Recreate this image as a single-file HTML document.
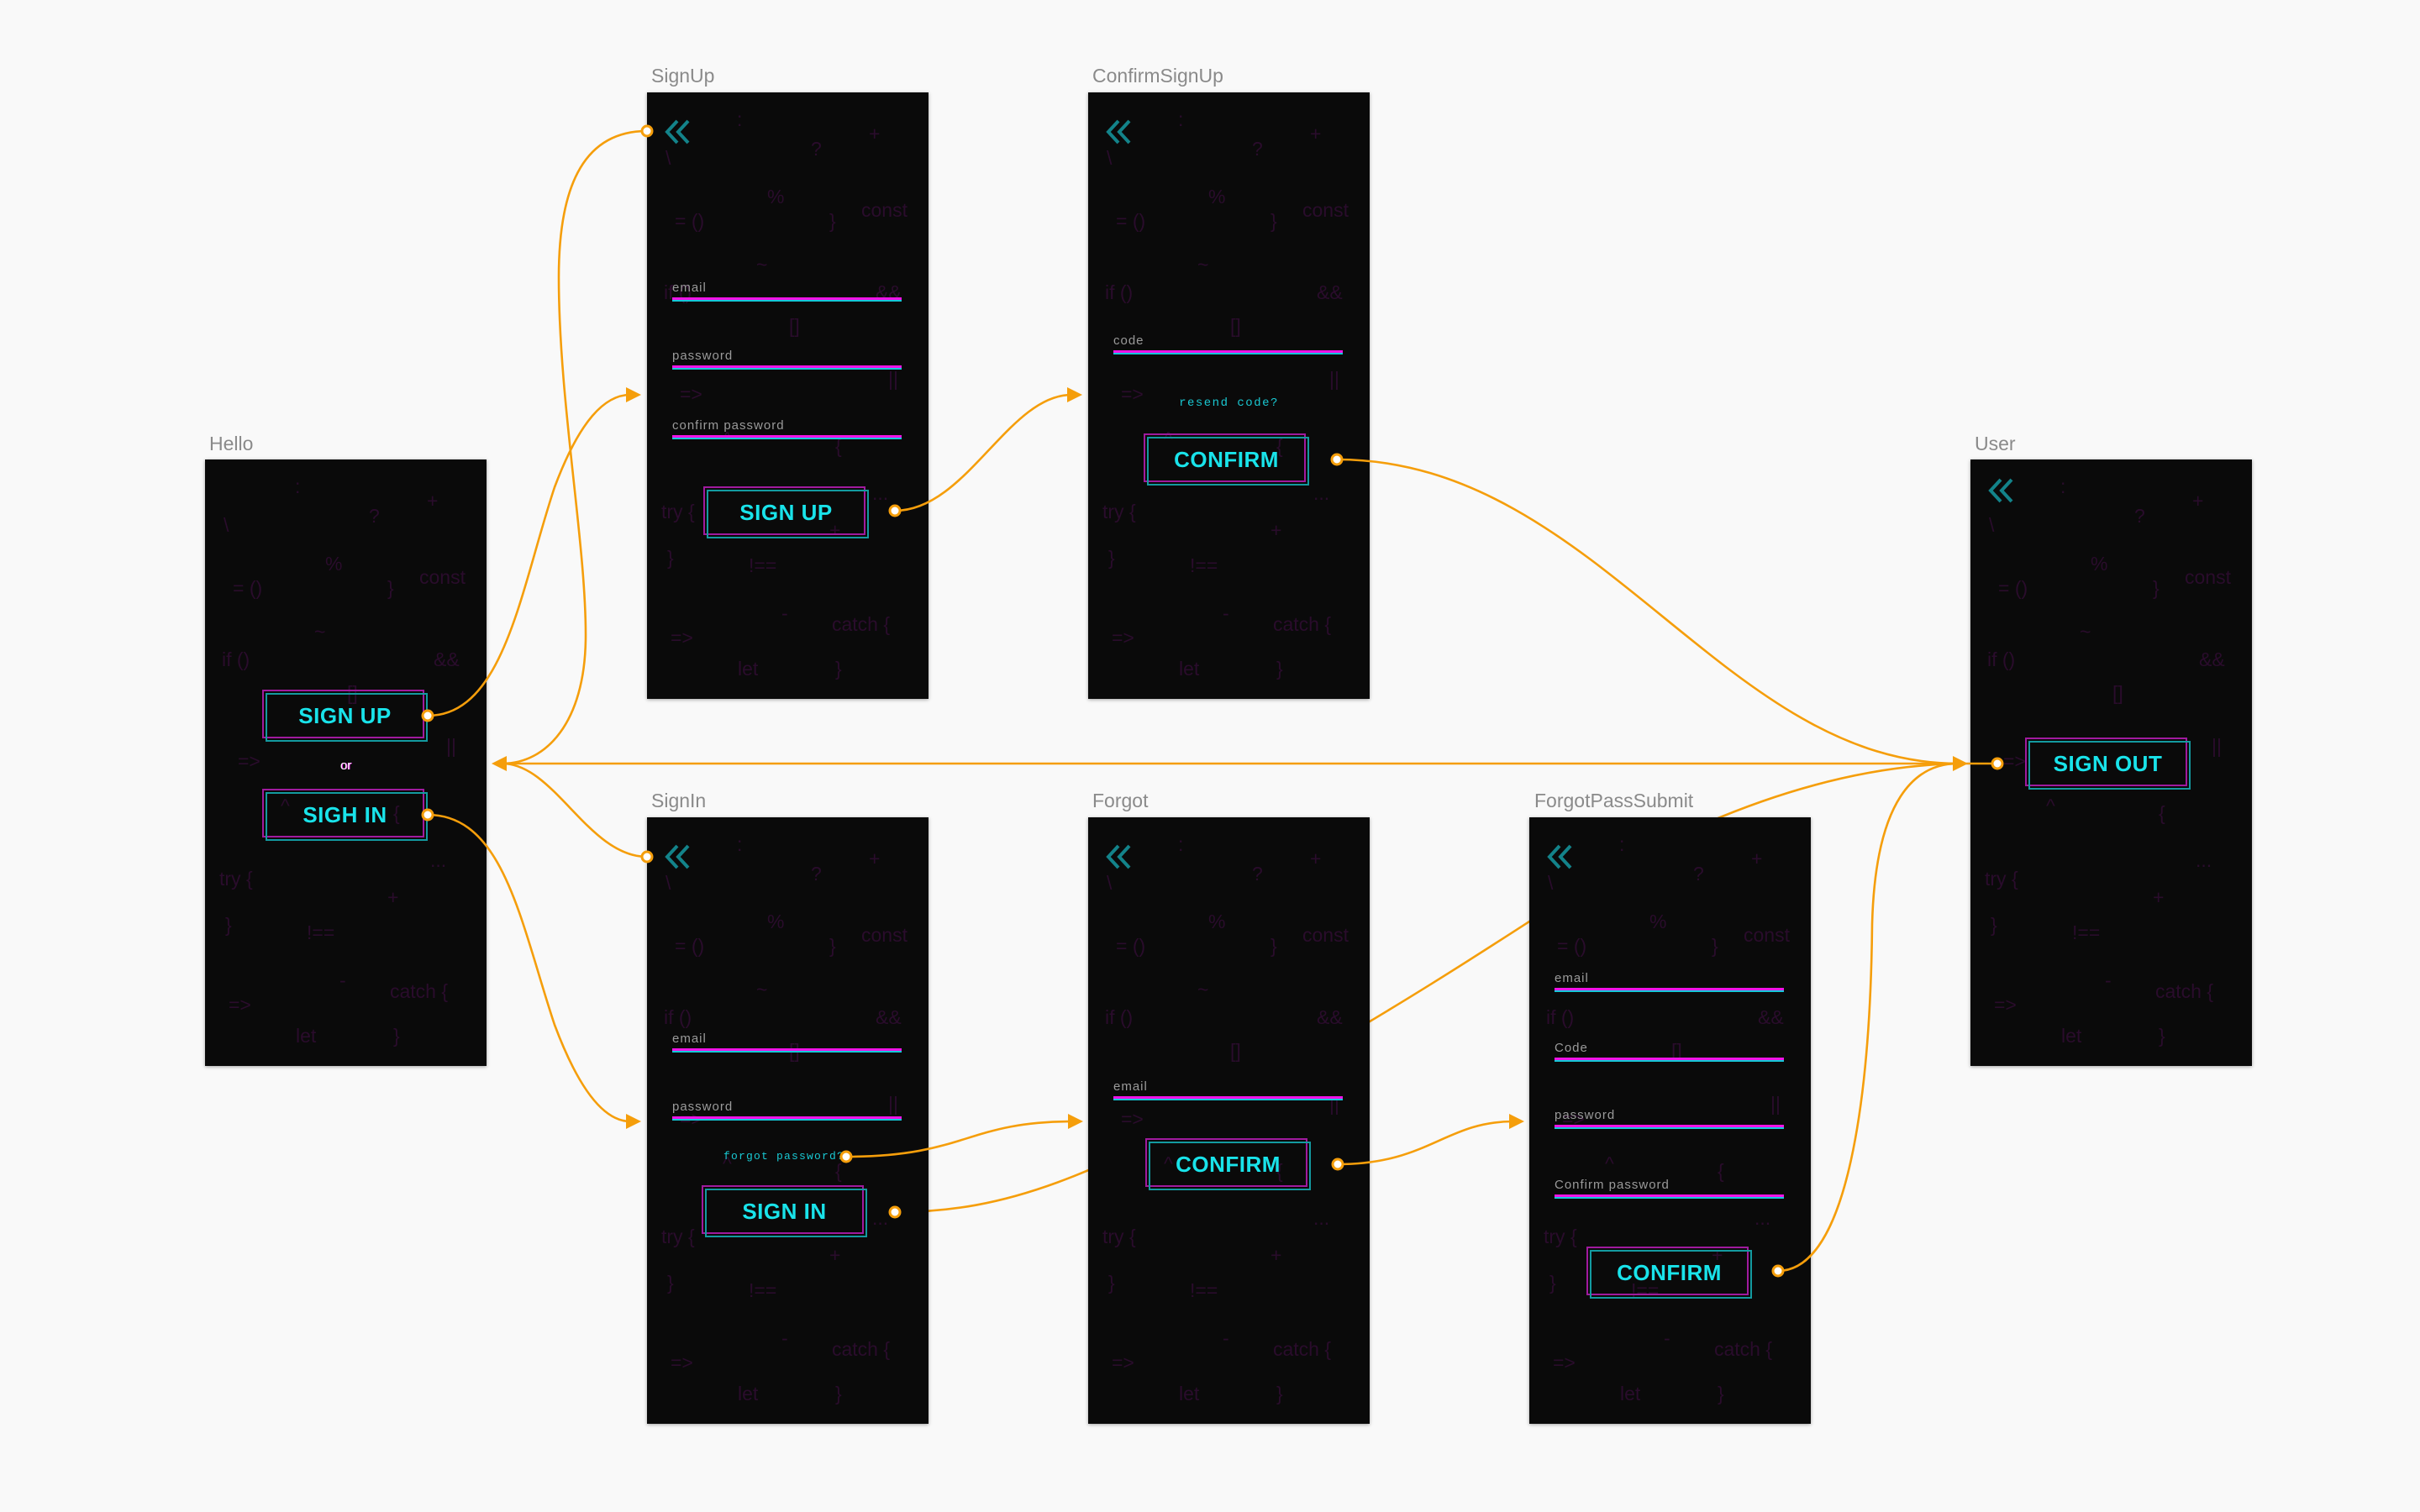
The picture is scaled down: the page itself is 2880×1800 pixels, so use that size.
<!DOCTYPE html>
<html><head><meta charset="utf-8"><style>
html,body{margin:0;padding:0}
body{width:2880px;height:1800px;background:#f9f9f9;position:relative;overflow:hidden;font-family:"Liberation Sans",sans-serif}
.lbl{position:absolute;color:#8a8a8a;font-size:23px}
.fr{position:absolute;width:335px;height:722px;background:#0a0a0a;box-shadow:0 1px 4px rgba(0,0,0,.35);overflow:hidden}
.g span{position:absolute;color:#2a0c2c;font-size:23px;white-space:pre;line-height:1}
.chev{position:absolute;left:20px;top:32px}
.in{position:absolute;left:30px;width:273px}
.in .t{color:#9a9a9a;font-size:15px;letter-spacing:1px;position:absolute;left:0;top:-20px;white-space:nowrap}
.in .l{height:3px;background:#f013e6;border-bottom:2px solid #15c8d8}
.btn{position:absolute;width:197px;height:62px}
.btn .a{position:absolute;left:0;top:0;border:2px solid #a01a9e;box-sizing:border-box;width:193px;height:58px}
.btn .b{position:absolute;left:4px;top:4px;width:193px;height:58px;border:2px solid #139aa0;box-sizing:border-box}
.btn .x{position:absolute;left:0;top:0;width:197px;height:62px;line-height:62px;text-align:center;color:#19e3ea;font-weight:bold;font-size:26px;letter-spacing:0.5px}
.mono{position:absolute;color:#19c8d2;font-family:"Liberation Mono",monospace;font-size:14px;letter-spacing:1.5px;white-space:nowrap}
svg.c{position:absolute;left:0;top:0}
</style></head><body>

<svg class="c" width="2880" height="1800" style="z-index:0">
<g fill="none" stroke="#f59e0b" stroke-width="2.6">
<path d="M1065,1443 C1200,1443 1300,1400 1500,1290 C1650,1210 1820,1097 1900,1045 C2050,960 2200,909 2342,909"/>
</g>
</svg>

<div class="lbl" style="left:249px;top:515px">Hello</div>
<div class="lbl" style="left:775px;top:77px">SignUp</div>
<div class="lbl" style="left:1300px;top:77px">ConfirmSignUp</div>
<div class="lbl" style="left:2350px;top:515px">User</div>
<div class="lbl" style="left:775px;top:940px">SignIn</div>
<div class="lbl" style="left:1300px;top:940px">Forgot</div>
<div class="lbl" style="left:1826px;top:940px">ForgotPassSubmit</div>

<!-- Hello -->
<div class="fr" style="left:244px;top:547px">
<div class="g"><span style="left:107px;top:21px">:</span><span style="left:195px;top:56px">?</span><span style="left:264px;top:38px">+</span><span style="left:22px;top:67px">\</span><span style="left:143px;top:113px">%</span><span style="left:255px;top:129px">const</span><span style="left:33px;top:142px">= ()</span><span style="left:217px;top:142px">}</span><span style="left:130px;top:194px">~</span><span style="left:20px;top:227px">if ()</span><span style="left:272px;top:227px">&amp;&amp;</span><span style="left:169px;top:267px">[]</span><span style="left:287px;top:330px">||</span><span style="left:39px;top:348px">=&gt;</span><span style="left:90px;top:401px">^</span><span style="left:224px;top:410px">{</span><span style="left:17px;top:488px">try {</span><span style="left:268px;top:466px">...</span><span style="left:217px;top:510px">+</span><span style="left:24px;top:543px">}</span><span style="left:121px;top:552px">!==</span><span style="left:160px;top:609px">-</span><span style="left:220px;top:622px">catch {</span><span style="left:28px;top:638px">=&gt;</span><span style="left:108px;top:675px">let</span><span style="left:224px;top:675px">}</span></div>
<div class="btn" style="left:68px;top:274px"><div class="a"></div><div class="b"></div><div class="x">SIGN UP</div></div>
<div style="position:absolute;left:0;width:335px;top:356px;text-align:center;color:#fff;font-size:15px;text-shadow:1px 0 #e020e0">or</div>
<div class="btn" style="left:68px;top:392px"><div class="a"></div><div class="b"></div><div class="x">SIGH IN</div></div>
</div>

<!-- SignUp -->
<div class="fr" style="left:770px;top:110px">
<div class="g"><span style="left:107px;top:21px">:</span><span style="left:195px;top:56px">?</span><span style="left:264px;top:38px">+</span><span style="left:22px;top:67px">\</span><span style="left:143px;top:113px">%</span><span style="left:255px;top:129px">const</span><span style="left:33px;top:142px">= ()</span><span style="left:217px;top:142px">}</span><span style="left:130px;top:194px">~</span><span style="left:20px;top:227px">if ()</span><span style="left:272px;top:227px">&amp;&amp;</span><span style="left:169px;top:267px">[]</span><span style="left:287px;top:330px">||</span><span style="left:39px;top:348px">=&gt;</span><span style="left:90px;top:401px">^</span><span style="left:224px;top:410px">{</span><span style="left:17px;top:488px">try {</span><span style="left:268px;top:466px">...</span><span style="left:217px;top:510px">+</span><span style="left:24px;top:543px">}</span><span style="left:121px;top:552px">!==</span><span style="left:160px;top:609px">-</span><span style="left:220px;top:622px">catch {</span><span style="left:28px;top:638px">=&gt;</span><span style="left:108px;top:675px">let</span><span style="left:224px;top:675px">}</span></div>
<svg class="chev" width="34" height="30"><g fill="none" stroke="#13838a" stroke-width="4"><polyline points="16,2 4,15 16,28"/><polyline points="29,2 17,15 29,28"/></g></svg>
<div class="in" style="top:244px"><div class="t">email</div><div class="l"></div></div>
<div class="in" style="top:325px"><div class="t">password</div><div class="l"></div></div>
<div class="in" style="top:408px"><div class="t">confirm password</div><div class="l"></div></div>
<div class="btn" style="left:67px;top:469px"><div class="a"></div><div class="b"></div><div class="x">SIGN UP</div></div>
</div>

<!-- ConfirmSignUp -->
<div class="fr" style="left:1295px;top:110px">
<div class="g"><span style="left:107px;top:21px">:</span><span style="left:195px;top:56px">?</span><span style="left:264px;top:38px">+</span><span style="left:22px;top:67px">\</span><span style="left:143px;top:113px">%</span><span style="left:255px;top:129px">const</span><span style="left:33px;top:142px">= ()</span><span style="left:217px;top:142px">}</span><span style="left:130px;top:194px">~</span><span style="left:20px;top:227px">if ()</span><span style="left:272px;top:227px">&amp;&amp;</span><span style="left:169px;top:267px">[]</span><span style="left:287px;top:330px">||</span><span style="left:39px;top:348px">=&gt;</span><span style="left:90px;top:401px">^</span><span style="left:224px;top:410px">{</span><span style="left:17px;top:488px">try {</span><span style="left:268px;top:466px">...</span><span style="left:217px;top:510px">+</span><span style="left:24px;top:543px">}</span><span style="left:121px;top:552px">!==</span><span style="left:160px;top:609px">-</span><span style="left:220px;top:622px">catch {</span><span style="left:28px;top:638px">=&gt;</span><span style="left:108px;top:675px">let</span><span style="left:224px;top:675px">}</span></div>
<svg class="chev" width="34" height="30"><g fill="none" stroke="#13838a" stroke-width="4"><polyline points="16,2 4,15 16,28"/><polyline points="29,2 17,15 29,28"/></g></svg>
<div class="in" style="top:307px"><div class="t">code</div><div class="l"></div></div>
<div class="mono" style="left:0;width:335px;text-align:center;top:362px">resend code?</div>
<div class="btn" style="left:66px;top:406px"><div class="a"></div><div class="b"></div><div class="x">CONFIRM</div></div>
</div>

<!-- User -->
<div class="fr" style="left:2345px;top:547px">
<div class="g"><span style="left:107px;top:21px">:</span><span style="left:195px;top:56px">?</span><span style="left:264px;top:38px">+</span><span style="left:22px;top:67px">\</span><span style="left:143px;top:113px">%</span><span style="left:255px;top:129px">const</span><span style="left:33px;top:142px">= ()</span><span style="left:217px;top:142px">}</span><span style="left:130px;top:194px">~</span><span style="left:20px;top:227px">if ()</span><span style="left:272px;top:227px">&amp;&amp;</span><span style="left:169px;top:267px">[]</span><span style="left:287px;top:330px">||</span><span style="left:39px;top:348px">=&gt;</span><span style="left:90px;top:401px">^</span><span style="left:224px;top:410px">{</span><span style="left:17px;top:488px">try {</span><span style="left:268px;top:466px">...</span><span style="left:217px;top:510px">+</span><span style="left:24px;top:543px">}</span><span style="left:121px;top:552px">!==</span><span style="left:160px;top:609px">-</span><span style="left:220px;top:622px">catch {</span><span style="left:28px;top:638px">=&gt;</span><span style="left:108px;top:675px">let</span><span style="left:224px;top:675px">}</span></div>
<svg class="chev" width="34" height="30" style="top:22px"><g fill="none" stroke="#13838a" stroke-width="4"><polyline points="16,2 4,15 16,28"/><polyline points="29,2 17,15 29,28"/></g></svg>
<div class="btn" style="left:65px;top:331px"><div class="a"></div><div class="b"></div><div class="x">SIGN OUT</div></div>
</div>

<!-- SignIn -->
<div class="fr" style="left:770px;top:973px">
<div class="g"><span style="left:107px;top:21px">:</span><span style="left:195px;top:56px">?</span><span style="left:264px;top:38px">+</span><span style="left:22px;top:67px">\</span><span style="left:143px;top:113px">%</span><span style="left:255px;top:129px">const</span><span style="left:33px;top:142px">= ()</span><span style="left:217px;top:142px">}</span><span style="left:130px;top:194px">~</span><span style="left:20px;top:227px">if ()</span><span style="left:272px;top:227px">&amp;&amp;</span><span style="left:169px;top:267px">[]</span><span style="left:287px;top:330px">||</span><span style="left:39px;top:348px">=&gt;</span><span style="left:90px;top:401px">^</span><span style="left:224px;top:410px">{</span><span style="left:17px;top:488px">try {</span><span style="left:268px;top:466px">...</span><span style="left:217px;top:510px">+</span><span style="left:24px;top:543px">}</span><span style="left:121px;top:552px">!==</span><span style="left:160px;top:609px">-</span><span style="left:220px;top:622px">catch {</span><span style="left:28px;top:638px">=&gt;</span><span style="left:108px;top:675px">let</span><span style="left:224px;top:675px">}</span></div>
<svg class="chev" width="34" height="30"><g fill="none" stroke="#13838a" stroke-width="4"><polyline points="16,2 4,15 16,28"/><polyline points="29,2 17,15 29,28"/></g></svg>
<div class="in" style="top:275px"><div class="t">email</div><div class="l"></div></div>
<div class="in" style="top:356px"><div class="t">password</div><div class="l"></div></div>
<div class="mono" style="left:91px;top:396px;font-size:13px;letter-spacing:1.2px">forgot password?</div>
<div class="btn" style="left:65px;top:438px"><div class="a"></div><div class="b"></div><div class="x">SIGN IN</div></div>
</div>

<!-- Forgot -->
<div class="fr" style="left:1295px;top:973px">
<div class="g"><span style="left:107px;top:21px">:</span><span style="left:195px;top:56px">?</span><span style="left:264px;top:38px">+</span><span style="left:22px;top:67px">\</span><span style="left:143px;top:113px">%</span><span style="left:255px;top:129px">const</span><span style="left:33px;top:142px">= ()</span><span style="left:217px;top:142px">}</span><span style="left:130px;top:194px">~</span><span style="left:20px;top:227px">if ()</span><span style="left:272px;top:227px">&amp;&amp;</span><span style="left:169px;top:267px">[]</span><span style="left:287px;top:330px">||</span><span style="left:39px;top:348px">=&gt;</span><span style="left:90px;top:401px">^</span><span style="left:224px;top:410px">{</span><span style="left:17px;top:488px">try {</span><span style="left:268px;top:466px">...</span><span style="left:217px;top:510px">+</span><span style="left:24px;top:543px">}</span><span style="left:121px;top:552px">!==</span><span style="left:160px;top:609px">-</span><span style="left:220px;top:622px">catch {</span><span style="left:28px;top:638px">=&gt;</span><span style="left:108px;top:675px">let</span><span style="left:224px;top:675px">}</span></div>
<svg class="chev" width="34" height="30"><g fill="none" stroke="#13838a" stroke-width="4"><polyline points="16,2 4,15 16,28"/><polyline points="29,2 17,15 29,28"/></g></svg>
<div class="in" style="top:332px"><div class="t">email</div><div class="l"></div></div>
<div class="btn" style="left:68px;top:382px"><div class="a"></div><div class="b"></div><div class="x">CONFIRM</div></div>
</div>

<!-- ForgotPassSubmit -->
<div class="fr" style="left:1820px;top:973px">
<div class="g"><span style="left:107px;top:21px">:</span><span style="left:195px;top:56px">?</span><span style="left:264px;top:38px">+</span><span style="left:22px;top:67px">\</span><span style="left:143px;top:113px">%</span><span style="left:255px;top:129px">const</span><span style="left:33px;top:142px">= ()</span><span style="left:217px;top:142px">}</span><span style="left:130px;top:194px">~</span><span style="left:20px;top:227px">if ()</span><span style="left:272px;top:227px">&amp;&amp;</span><span style="left:169px;top:267px">[]</span><span style="left:287px;top:330px">||</span><span style="left:39px;top:348px">=&gt;</span><span style="left:90px;top:401px">^</span><span style="left:224px;top:410px">{</span><span style="left:17px;top:488px">try {</span><span style="left:268px;top:466px">...</span><span style="left:217px;top:510px">+</span><span style="left:24px;top:543px">}</span><span style="left:121px;top:552px">!==</span><span style="left:160px;top:609px">-</span><span style="left:220px;top:622px">catch {</span><span style="left:28px;top:638px">=&gt;</span><span style="left:108px;top:675px">let</span><span style="left:224px;top:675px">}</span></div>
<svg class="chev" width="34" height="30"><g fill="none" stroke="#13838a" stroke-width="4"><polyline points="16,2 4,15 16,28"/><polyline points="29,2 17,15 29,28"/></g></svg>
<div class="in" style="top:203px"><div class="t">email</div><div class="l"></div></div>
<div class="in" style="top:286px"><div class="t">Code</div><div class="l"></div></div>
<div class="in" style="top:366px"><div class="t">password</div><div class="l"></div></div>
<div class="in" style="top:449px"><div class="t">Confirm password</div><div class="l"></div></div>
<div class="btn" style="left:68px;top:511px"><div class="a"></div><div class="b"></div><div class="x">CONFIRM</div></div>
</div>

<svg class="c" width="2880" height="1800" style="z-index:5">
<g fill="none" stroke="#f59e0b" stroke-width="2.6">
<path d="M509,852 C600,852 620,700 660,580 C690,500 720,470 750,470"/>
<path d="M509,970 C600,970 620,1100 660,1220 C690,1300 720,1335 750,1335"/>
<path d="M770,156 C690,156 665,230 665,330 C665,480 698,650 697,760 C696,860 650,909 598,909"/>
<path d="M770,1020 C700,1020 660,909 598,909"/>
<path d="M598,909 L2330,909"/>
<path d="M2342,909 L2377,909"/>
<path d="M1065,608 C1150,608 1200,470 1275,470"/>
<path d="M1591,547 C1900,547 2050,909 2330,909"/>
<path d="M1007,1377 C1150,1377 1150,1335 1277,1335"/>
<path d="M1592,1386 C1700,1386 1720,1335 1801,1335"/>
<path d="M2116,1513 C2200,1513 2226,1300 2228,1100 C2232,950 2280,909 2330,909"/>
</g>
<g fill="#f59e0b">
<polygon points="585,909 603,900 603,918"/>
<polygon points="2342,909 2324,900 2324,918"/>
<polygon points="763,470 745,461 745,479"/>
<polygon points="763,1335 745,1326 745,1344"/>
<polygon points="1288,470 1270,461 1270,479"/>
<polygon points="1289,1335 1271,1326 1271,1344"/>
<polygon points="1814,1335 1796,1326 1796,1344"/>
</g>
<g fill="#fff" stroke="#f59e0b" stroke-width="3">
<circle cx="509" cy="852" r="6"/><circle cx="509" cy="970" r="6"/>
<circle cx="770" cy="156" r="6"/><circle cx="770" cy="1020" r="6"/>
<circle cx="1065" cy="608" r="6"/><circle cx="1591" cy="547" r="6"/>
<circle cx="2377" cy="909" r="6"/><circle cx="1007" cy="1377" r="6"/>
<circle cx="1065" cy="1443" r="6"/><circle cx="1592" cy="1386" r="6"/>
<circle cx="2116" cy="1513" r="6"/>
</g>
</svg>
</body></html>
